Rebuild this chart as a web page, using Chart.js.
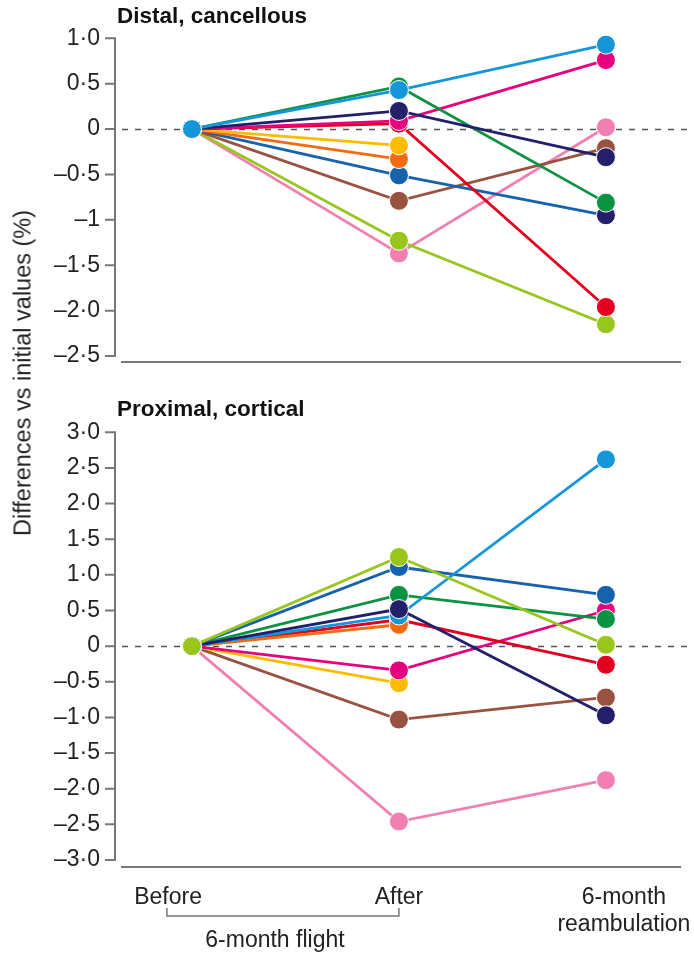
<!DOCTYPE html>
<html>
<head>
<meta charset="utf-8">
<script src="https://cdn.jsdelivr.net/npm/chart.js@4.4.0/dist/chart.umd.min.js"></script>
<style>
  body { margin:0; background:#fff; width:694px; height:954px; overflow:hidden; position:relative; font-family:"Liberation Sans", Arial, sans-serif; }
  #distal { position:absolute; left:0; top:0; }
  #proximal { position:absolute; left:0; top:380px; }
  #ytitle { position:absolute; left:23px; top:373px; transform:translate(-50%,-50%) rotate(-90deg); white-space:nowrap; font-size:23.5px; color:#222; }
</style>
</head>
<body>
<canvas id="distal" width="694" height="380" style="width:694px;height:380px"></canvas>
<canvas id="proximal" width="694" height="574" style="width:694px;height:574px"></canvas>
<div id="ytitle">Differences vs initial values (%)</div>
<script>
// time points on the x axis: Before, After flight, after 6-month reambulation
const timepoints = [0, 1, 2];
const xLabels = ['Before', 'After', ['6-month', 'reambulation']];
const flightLabel = '6-month flight';

const distalTicks = [1, 0.5, 0, -0.5, -1, -1.5, -2, -2.5];
const distalTickLabels = ['1·0', '0·5', '0', '–0·5', '–1', '–1·5', '–2·0', '–2·5'];
const proximalTicks = [3, 2.5, 2, 1.5, 1, 0.5, 0, -0.5, -1, -1.5, -2, -2.5, -3];
const proximalTickLabels = ['3·0', '2·5', '2·0', '1·5', '1·0', '0·5', '0', '–0·5', '–1·0', '–1·5', '–2·0', '–2·5', '–3·0'];

// distal, cancellous: % change per subject
const distalCyan    = [0, 0.43, 0.93];
const distalGreen   = [0, 0.47, -0.81];
const distalNavy    = [0, 0.20, -0.31];
const distalMagenta = [0, 0.09, 0.76];
const distalRed     = [0, 0.06, -1.96];
const distalGold    = [0, -0.18, null];
const distalOrange  = [0, -0.33, null];
const distalBlue    = [0, -0.51, -0.95];
const distalBrown   = [0, -0.79, -0.21];
const distalLime    = [0, -1.23, -2.15];
const distalPink    = [0, -1.37, 0.02];

// proximal, cortical
const proxLime    = [0, 1.25, 0.02];
const proxBlue    = [0, 1.11, 0.72];
const proxGreen   = [0, 0.72, 0.38];
const proxNavy    = [0, 0.52, -0.97];
const proxCyan    = [0, 0.43, 2.62];
const proxOrange  = [0, 0.30, null];
const proxRed     = [0, 0.37, -0.26];
const proxMagenta = [0, -0.34, 0.50];
const proxGold    = [0, -0.52, null];
const proxBrown   = [0, -1.03, -0.72];
const proxPink    = [0, -2.46, -1.88];

const C = {
  cyan: '#1596d9', green: '#0b9343', navy: '#231f6b', magenta: '#e5007d', red: '#e3001f',
  gold: '#ffbb00', orange: '#f26b12', blue: '#1762ac', brown: '#9a5240', lime: '#98c61d', pink: '#f27fb1'
};

// first entry is drawn on top
const distalSeries = [
  [distalCyan, C.cyan], [distalNavy, C.navy], [distalGreen, C.green], [distalMagenta, C.magenta],
  [distalRed, C.red], [distalGold, C.gold], [distalOrange, C.orange], [distalBlue, C.blue, C.navy],
  [distalBrown, C.brown], [distalLime, C.lime], [distalPink, C.pink]
];
const proximalSeries = [
  [proxLime, C.lime], [proxNavy, C.navy], [proxCyan, C.cyan], [proxOrange, C.orange], [proxBlue, C.blue],
  [proxGreen, C.green], [proxRed, C.red], [proxMagenta, C.magenta], [proxGold, C.gold],
  [proxBrown, C.brown], [proxPink, C.pink]
];

const FONT = '"Liberation Sans", Arial, sans-serif';

function makeDatasets(series) {
  return series.map(([vals, col, lastCol]) => ({
    data: vals.map((v, i) => ({ x: timepoints[i], y: v })),
    borderColor: col,
    backgroundColor: col,
    pointBackgroundColor: vals.map((v, i) => (lastCol && i === vals.length - 1) ? lastCol : col),
    pointBorderColor: '#fff',
    pointBorderWidth: 1,
    pointRadius: 9.5,
    pointHoverRadius: 9.5,
    borderWidth: 2.8,
    tension: 0,
    clip: false
  }));
}

// zero line, detached y spine with tick marks, panel title
const panelDecor = {
  id: 'panelDecor',
  beforeDatasetsDraw(chart, args, opts) {
    const { ctx, chartArea, scales: { y } } = chart;
    ctx.save();
    const y0 = Math.round(y.getPixelForValue(0)) + 0.5;
    ctx.setLineDash([6, 7]);
    ctx.strokeStyle = '#555';
    ctx.lineWidth = 1.5;
    ctx.beginPath(); ctx.moveTo(chartArea.left, y0); ctx.lineTo(chart.width - 2, y0); ctx.stroke();
    ctx.setLineDash([]);

    const ax = chartArea.left - 7;
    const t = opts.ticks;
    ctx.strokeStyle = '#777';
    ctx.lineWidth = 2;
    ctx.beginPath();
    ctx.moveTo(ax, y.getPixelForValue(t[0]));
    ctx.lineTo(ax, y.getPixelForValue(t[t.length - 1]));
    t.forEach(v => { const py = y.getPixelForValue(v); ctx.moveTo(ax - 10, py); ctx.lineTo(ax + 1, py); });
    ctx.stroke();

    ctx.fillStyle = '#111';
    ctx.font = 'bold 22.5px ' + FONT;
    ctx.textAlign = 'left';
    ctx.textBaseline = 'middle';
    ctx.fillText(opts.title, chartArea.left - 5, opts.titleY);
    ctx.restore();
  }
};

// category labels and the flight bracket under the lower panel
const timeLabels = {
  id: 'timeLabels',
  afterDraw(chart) {
    const { ctx, scales: { x } } = chart;
    const px = timepoints.map(t => x.getPixelForValue(t));
    ctx.save();
    ctx.font = '23px ' + FONT;
    ctx.fillStyle = '#222';
    ctx.textBaseline = 'middle';
    ctx.textAlign = 'right';
    ctx.fillText(xLabels[0], px[0] + 10, 518);
    ctx.textAlign = 'center';
    ctx.fillText(xLabels[1], px[1], 518);
    ctx.fillText(xLabels[2][0], px[2] + 18, 518);
    ctx.fillText(xLabels[2][1], px[2] + 18, 545);

    const bl = px[0] - 25, br = px[1];
    ctx.strokeStyle = '#777';
    ctx.lineWidth = 1.5;
    ctx.beginPath();
    ctx.moveTo(bl, 528); ctx.lineTo(bl, 536); ctx.lineTo(br, 536); ctx.lineTo(br, 528);
    ctx.stroke();
    ctx.fillText(flightLabel, (bl + br) / 2 - 8, 561);
    ctx.restore();
  }
};

function makeChart(id, series, ticks, tickLabels, yMin, yMax, pad, title, titleY, extra) {
  return new Chart(document.getElementById(id), {
    type: 'line',
    data: { datasets: makeDatasets(series) },
    plugins: [panelDecor].concat(extra || []),
    options: {
      responsive: false,
      animation: false,
      devicePixelRatio: 1,
      layout: { padding: pad },
      plugins: {
        legend: { display: false },
        tooltip: { enabled: false },
        panelDecor: { ticks: ticks, title: title, titleY: titleY }
      },
      scales: {
        x: {
          type: 'linear', min: -0.338, max: 2.358,
          grid: { display: false, drawTicks: false },
          border: { display: true, color: '#777', width: 2 },
          ticks: { display: false },
          afterFit(s) { s.height = 0; }
        },
        y: {
          min: yMin, max: yMax,
          grid: { display: false, drawTicks: false },
          border: { display: false },
          afterBuildTicks(s) { s.ticks = ticks.map(v => ({ value: v })); },
          // fixed axis width; label overhang is already covered by the layout padding
          afterFit(s) { s.width = 122; s.paddingTop = 0; s.paddingBottom = 0; },
          ticks: {
            autoSkip: false,
            padding: 22,
            color: '#222',
            font: { family: FONT, size: 23 },
            callback: v => tickLabels[ticks.indexOf(v)]
          }
        }
      }
    }
  });
}

makeChart('distal', distalSeries, distalTicks, distalTickLabels, -2.569, 1.0,
  { top: 38.3, bottom: 17.7, left: 0, right: 14 }, 'Distal, cancellous', 17);
makeChart('proximal', proximalSeries, proximalTicks, proximalTickLabels, -3.094, 3.0,
  { top: 52.3, bottom: 87.3, left: 0, right: 14 }, 'Proximal, cortical', 30, [timeLabels]);
</script>
</body>
</html>
